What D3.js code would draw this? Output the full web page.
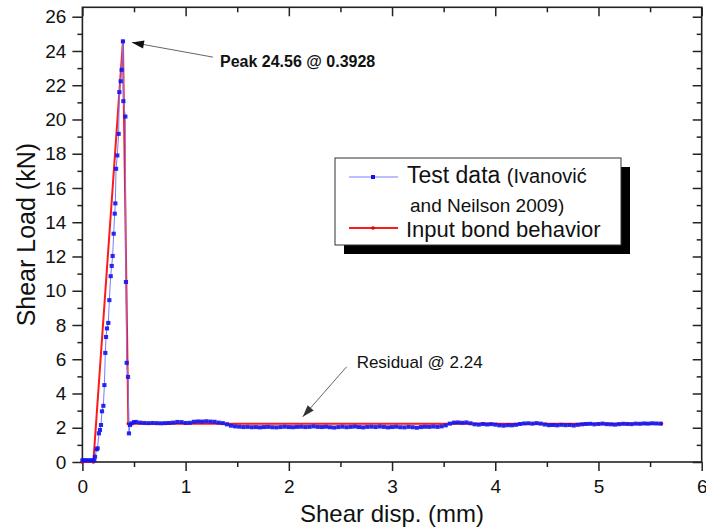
<!DOCTYPE html>
<html>
<head>
<meta charset="utf-8">
<script src="https://cdn.jsdelivr.net/npm/d3@7"></script>
<style>
  body { margin: 0; background: #fff; }
  svg { display: block; font-family: Arial, "Liberation Sans", sans-serif; }
</style>
</head>
<body>
<svg id="chart" width="706" height="528"></svg>
<script>
// test data (Ivanovic and Neilson 2009)
const testPoints = [
  [0.00, 0.10], [0.02, 0.10], [0.04, 0.10], [0.06, 0.09], [0.08, 0.10], [0.10, 0.09], [0.115, 0.10],
  [0.122, 0.31], [0.138, 0.74], [0.147, 0.80], [0.160, 1.67], [0.170, 1.87], [0.180, 2.16],
  [0.190, 2.96], [0.203, 3.28], [0.213, 4.49], [0.222, 6.37], [0.229, 7.30], [0.238, 7.80],
  [0.251, 8.12], [0.261, 9.45], [0.274, 10.85], [0.284, 11.45], [0.293, 12.03], [0.303, 13.33],
  [0.313, 14.50], [0.319, 15.10], [0.326, 17.12], [0.338, 17.90], [0.351, 19.16], [0.358, 21.60],
  [0.371, 22.23], [0.380, 22.90], [0.3928, 24.56], [0.397, 21.07], [0.416, 20.17], [0.422, 10.51],
  [0.429, 5.79], [0.442, 4.97], [0.451, 1.67], [0.461, 2.16], [0.477, 2.26], [0.50, 2.33],
  [0.52, 2.34], [0.56, 2.30], [0.60, 2.28], [0.64, 2.27], [0.68, 2.28], [0.72, 2.27], [0.76, 2.26], [0.80, 2.27], [0.84, 2.28], [0.88, 2.30],
  [0.92, 2.34], [0.96, 2.33], [1.00, 2.28], [1.04, 2.29], [1.08, 2.35], [1.12, 2.37], [1.16, 2.36], [1.20, 2.38], [1.24, 2.36], [1.28, 2.35],
  [1.32, 2.30], [1.36, 2.27], [1.40, 2.20], [1.44, 2.12], [1.48, 2.08], [1.52, 2.06], [1.56, 2.04], [1.60, 2.05], [1.64, 2.03], [1.68, 2.04],
  [1.72, 2.02], [1.76, 2.04], [1.80, 2.05], [1.84, 2.03], [1.88, 2.02], [1.92, 2.04], [1.96, 2.06], [2.00, 2.04], [2.04, 2.03], [2.08, 2.05],
  [2.12, 2.06], [2.16, 2.04], [2.20, 2.05], [2.24, 2.08], [2.28, 2.05], [2.32, 2.04], [2.36, 2.06], [2.40, 2.03], [2.44, 2.01], [2.48, 2.04],
  [2.52, 2.06], [2.56, 2.03], [2.60, 2.05], [2.64, 2.07], [2.68, 2.04], [2.72, 2.02], [2.76, 2.05], [2.80, 2.06], [2.84, 2.04], [2.88, 2.07],
  [2.92, 2.05], [2.96, 2.02], [3.00, 2.04], [3.04, 2.06], [3.08, 2.03], [3.12, 2.02], [3.16, 2.05], [3.20, 2.03], [3.24, 2.00], [3.28, 2.04],
  [3.32, 2.06], [3.36, 2.05], [3.40, 2.07], [3.44, 2.05], [3.48, 2.08], [3.52, 2.14], [3.56, 2.24], [3.60, 2.30], [3.64, 2.31], [3.68, 2.29],
  [3.72, 2.31], [3.76, 2.26], [3.80, 2.20], [3.84, 2.18], [3.88, 2.22], [3.92, 2.19], [3.96, 2.21], [4.00, 2.18], [4.04, 2.14], [4.08, 2.12],
  [4.12, 2.15], [4.16, 2.14], [4.20, 2.17], [4.24, 2.22], [4.28, 2.25], [4.32, 2.26], [4.36, 2.24], [4.40, 2.27], [4.44, 2.24], [4.48, 2.19],
  [4.52, 2.15], [4.56, 2.16], [4.60, 2.14], [4.64, 2.17], [4.68, 2.15], [4.72, 2.16], [4.76, 2.13], [4.80, 2.17], [4.84, 2.20], [4.88, 2.22],
  [4.92, 2.23], [4.96, 2.20], [5.00, 2.22], [5.04, 2.24], [5.08, 2.21], [5.12, 2.20], [5.16, 2.18], [5.20, 2.21], [5.24, 2.23], [5.28, 2.22],
  [5.32, 2.21], [5.36, 2.24], [5.40, 2.23], [5.44, 2.25], [5.48, 2.24], [5.52, 2.26], [5.56, 2.25], [5.60, 2.24]
];

// input bond behavior
const inputX = [0, 0.106, 0.3928, 0.445, 5.61];
const inputY = [0, 0, 24.56, 2.24, 2.24];

const xMajor = [0, 1, 2, 3, 4, 5, 6];
const xMinor = [0.5, 1.5, 2.5, 3.5, 4.5, 5.5];
const yMajor = [0, 2, 4, 6, 8, 10, 12, 14, 16, 18, 20, 22, 24, 26];
const yMinor = [1, 3, 5, 7, 9, 11, 13, 15, 17, 19, 21, 23, 25];

const svg = d3.select('#chart');
const pLeft = 82.4, pRight = 701.7, pTop = 7.3, pBottom = 462;

const x = d3.scaleLinear().domain([0, 6]).range([pLeft, pRight]);
const y = d3.scaleLinear().domain([0, 26.55]).range([pBottom, pTop]);

// frame
svg.append('rect')
  .attr('x', pLeft).attr('y', pTop)
  .attr('width', pRight - pLeft).attr('height', pBottom - pTop)
  .attr('fill', 'none').attr('stroke', '#222').attr('stroke-width', 1.6);

function styleAxis(g) {
  g.select('.domain').remove();
  g.selectAll('line').attr('stroke', '#222').attr('stroke-width', 1.5);
  g.selectAll('text').attr('fill', '#111').style('font-size', '19px');
}

// bottom
svg.append('g').attr('transform', `translate(0,${pBottom})`)
  .call(d3.axisBottom(x).tickValues(xMajor).tickSize(9).tickPadding(9).tickFormat(d3.format('d')))
  .call(styleAxis);
svg.append('g').attr('transform', `translate(0,${pBottom})`)
  .call(d3.axisBottom(x).tickValues(xMinor).tickSize(5).tickFormat(''))
  .call(styleAxis);
// left
svg.append('g').attr('transform', `translate(${pLeft},0)`)
  .call(d3.axisLeft(y).tickValues(yMajor).tickSize(10).tickPadding(6).tickFormat(d3.format('d')))
  .call(styleAxis);
svg.append('g').attr('transform', `translate(${pLeft},0)`)
  .call(d3.axisLeft(y).tickValues(yMinor).tickSize(5).tickFormat(''))
  .call(styleAxis);
// top (inward)
svg.append('g').attr('transform', `translate(0,${pTop})`)
  .call(d3.axisBottom(x).tickValues(xMajor).tickSize(9).tickFormat(''))
  .call(styleAxis);
svg.append('g').attr('transform', `translate(0,${pTop})`)
  .call(d3.axisBottom(x).tickValues(xMinor).tickSize(5).tickFormat(''))
  .call(styleAxis);
// right (inward)
svg.append('g').attr('transform', `translate(${pRight},0)`)
  .call(d3.axisLeft(y).tickValues(yMajor).tickSize(9).tickFormat(''))
  .call(styleAxis);
svg.append('g').attr('transform', `translate(${pRight},0)`)
  .call(d3.axisLeft(y).tickValues(yMinor).tickSize(5).tickFormat(''))
  .call(styleAxis);

// axis titles
svg.append('text')
  .attr('x', (pLeft + pRight) / 2).attr('y', 522)
  .attr('text-anchor', 'middle').style('font-size', '24px').attr('fill', '#111')
  .text('Shear disp. (mm)');
svg.append('text')
  .attr('transform', `translate(35,${(pTop + pBottom) / 2}) rotate(-90)`)
  .attr('text-anchor', 'middle').style('font-size', '25px').attr('fill', '#111')
  .text('Shear Load (kN)');

// input bond behavior line
const inputPts = inputX.map((d, i) => [d, inputY[i]]);
const line = d3.line().x(d => x(d[0])).y(d => y(d[1]));
svg.append('path').datum(inputPts)
  .attr('d', line).attr('fill', 'none')
  .attr('stroke', '#ff1a1a').attr('stroke-width', 2);
svg.selectAll('.inpt').data(inputPts).enter().append('circle')
  .attr('cx', d => x(d[0])).attr('cy', d => y(d[1])).attr('r', 1.8)
  .attr('fill', '#e00000');

// test data
svg.append('path').datum(testPoints)
  .attr('d', line).attr('fill', 'none')
  .attr('stroke', '#7a7aff').attr('stroke-width', 1);
svg.selectAll('.tpt').data(testPoints).enter().append('rect')
  .attr('x', d => x(d[0]) - 2.1).attr('y', d => y(d[1]) - 2)
  .attr('width', 4.2).attr('height', 4)
  .attr('fill', '#1414ee').attr('opacity', 0.9);

// annotations
function arrow(x1, y1, x2, y2, headColor) {
  svg.append('line').attr('x1', x1).attr('y1', y1).attr('x2', x2).attr('y2', y2)
    .attr('stroke', '#666').attr('stroke-width', 1);
  const a = Math.atan2(y2 - y1, x2 - x1), L = 12, W = 4;
  const bx = x2 - L * Math.cos(a), by = y2 - L * Math.sin(a);
  const px = -Math.sin(a) * W, py = Math.cos(a) * W;
  svg.append('path')
    .attr('d', `M${x2},${y2}L${bx + px},${by + py}L${bx - px},${by - py}Z`)
    .attr('fill', headColor);
}
arrow(x(1.265), y(23.64), x(0.48), y(24.5), '#111');
svg.append('text').attr('x', x(1.333)).attr('y', y(23.06))
  .style('font-size', '16px').style('font-weight', 'bold').attr('fill', '#111')
  .text('Peak 24.56 @ 0.3928');

arrow(x(2.56), y(5.56), x(2.135), y(2.64), '#333');
svg.append('text').attr('x', x(2.657)).attr('y', y(5.49))
  .style('font-size', '17px').attr('fill', '#111')
  .text('Residual @ 2.24');

// legend
const lg = svg.append('g');
lg.append('rect').attr('x', 344).attr('y', 167).attr('width', 286).attr('height', 87).attr('fill', '#000');
lg.append('rect').attr('x', 335).attr('y', 158).attr('width', 286).attr('height', 87)
  .attr('fill', '#fff').attr('stroke', '#333').attr('stroke-width', 1);
lg.append('line').attr('x1', 349).attr('x2', 398).attr('y1', 177).attr('y2', 177)
  .attr('stroke', '#7a7aff').attr('stroke-width', 1);
lg.append('rect').attr('x', 371).attr('y', 175).attr('width', 4).attr('height', 4).attr('fill', '#1414ee');
lg.append('line').attr('x1', 349).attr('x2', 398).attr('y1', 228).attr('y2', 228)
  .attr('stroke', '#ff1a1a').attr('stroke-width', 2);
lg.append('circle').attr('cx', 373).attr('cy', 228).attr('r', 1.8).attr('fill', '#e00000');

const t1 = lg.append('text').attr('x', 407).attr('y', 183).attr('fill', '#111');
t1.append('tspan').style('font-size', '23px').text('Test data ');
t1.append('tspan').style('font-size', '20px').text('(Ivanović');
lg.append('text').attr('x', 410).attr('y', 212).attr('fill', '#111')
  .style('font-size', '19px').text('and Neilson 2009)');
lg.append('text').attr('x', 406).attr('y', 237).attr('fill', '#111')
  .style('font-size', '22px').text('Input bond behavior');
</script>
</body>
</html>
